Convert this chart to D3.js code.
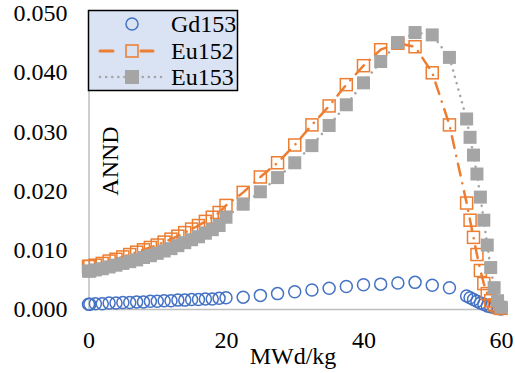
<!DOCTYPE html>
<html>
<head>
<meta charset="utf-8">
<script src="https://cdn.jsdelivr.net/npm/d3@7"></script>
<style>
    body { margin: 0; background: #fff; }
    svg text { font-family: "Liberation Serif", "Times New Roman", serif; font-size: 24px; fill: #000; }
</style>
</head>
<body>
<div id="chart"></div>
<script>
// Burnup steps (MWd/kg)
const burnup = [0, 0.2, 1, 2, 3, 4, 5, 6, 7, 8, 9, 10, 11, 12, 13, 14, 15, 16, 17, 18, 19, 20,
    22.5, 25, 27.5, 30, 32.5, 35, 37.5, 40, 42.5, 45, 47.5, 50, 52.5,
    55, 55.5, 56, 56.5, 57, 57.5, 58, 58.5, 59, 59.5, 60];

const gd153 = [0.0008, 0.0008, 0.0009, 0.0009, 0.0010, 0.0010, 0.0011, 0.0011, 0.0012, 0.0012, 0.0013, 0.0013,
    0.0014, 0.0014, 0.0015, 0.0015, 0.0016, 0.0016, 0.0017, 0.0017, 0.0018, 0.0019,
    0.0020, 0.0023, 0.0026, 0.0029, 0.0032, 0.0035, 0.0038, 0.0041, 0.0042, 0.0044, 0.0045, 0.0040, 0.0036,
    0.0022, 0.0019, 0.0016, 0.0013, 0.0010, 0.0008, 0.0005, 0.0004, 0.0002, 0.0001, 0.0000];

const eu152 = [0.0072, 0.0072, 0.0074, 0.0077, 0.0081, 0.0084, 0.0088, 0.0092, 0.0096, 0.0100, 0.0104, 0.0108,
    0.0113, 0.0118, 0.0123, 0.0129, 0.0135, 0.0141, 0.0148, 0.0155, 0.0163, 0.0175,
    0.0197, 0.0223, 0.0247, 0.0277, 0.0311, 0.0343, 0.0379, 0.0411, 0.0438, 0.0449, 0.0443, 0.0399, 0.0311,
    0.0179, 0.0150, 0.0121, 0.0092, 0.0065, 0.0043, 0.0026, 0.0014, 0.0007, 0.0003, 0.0001];

const eu153 = [0.0064, 0.0064, 0.0066, 0.0068, 0.0071, 0.0074, 0.0077, 0.0080, 0.0083, 0.0087, 0.0090, 0.0094,
    0.0098, 0.0102, 0.0107, 0.0112, 0.0117, 0.0122, 0.0128, 0.0134, 0.0141, 0.0155,
    0.0177, 0.0198, 0.0222, 0.0247, 0.0276, 0.0310, 0.0345, 0.0382, 0.0418, 0.0450, 0.0467, 0.0463, 0.0425,
    0.0321, 0.0290, 0.0260, 0.0228, 0.0189, 0.0150, 0.0108, 0.0070, 0.0036, 0.0014, 0.0003];

const xTicks = [0, 20, 40, 60];
const yTicks = [0, 0.01, 0.02, 0.03, 0.04, 0.05];
const seriesNames = ['Gd153', 'Eu152', 'Eu153'];

const width = 515, height = 373;

const svg = d3.select('#chart')
    .append('svg')
    .attr('width', width)
    .attr('height', height)
    .attr('font-family', 'Liberation Serif')
    .attr('font-size', 24);

const x = d3.scaleLinear().domain([0, 60]).range([88.5, 501]);
const y = d3.scaleLinear().domain([0, 0.05]).range([309, 13]);

// Axes (no tick marks, just labels and a gray baseline)
const yAxis = svg.append('g')
    .attr('transform', `translate(${x(0)},0)`)
    .call(d3.axisLeft(y).tickValues(yTicks).tickFormat(d3.format('.3f')).tickSize(0).tickPadding(21));

const xAxis = svg.append('g')
    .attr('transform', `translate(0,${y(0)})`)
    .call(d3.axisBottom(x).tickValues(xTicks).tickFormat(d3.format('d')).tickSize(0).tickPadding(22));

// drop d3's default sans-serif 10px on the axis groups
yAxis.attr('font-family', null).attr('font-size', null);
xAxis.attr('font-family', null).attr('font-size', null);

svg.selectAll('.domain').attr('stroke', '#bfbfbf').attr('stroke-width', 1.5);
svg.selectAll('.tick text').attr('fill', '#000');

// Axis titles
svg.append('text')
    .attr('x', 293)
    .attr('y', 364)
    .attr('text-anchor', 'middle')
    .text('MWd/kg');

svg.append('text')
    .attr('transform', 'translate(118,161) rotate(-90)')
    .attr('text-anchor', 'middle')
    .text('ANND');

const pts = vals => burnup.map((b, i) => [b, vals[i]]);
const line = d3.line().x(d => x(d[0])).y(d => y(d[1]));

// Gd153 - open blue circles
const gdG = svg.append('g');
gdG.selectAll('circle')
    .data(pts(gd153))
    .enter()
    .append('circle')
    .attr('cx', d => x(d[0]))
    .attr('cy', d => y(d[1]))
    .attr('r', 6)
    .attr('fill', 'none')
    .attr('stroke', '#4472c4')
    .attr('stroke-width', 1.5);

// Eu152 - orange long-dash-dot line with open squares
const euG = svg.append('g');
euG.append('path')
    .attr('d', line(pts(eu152)))
    .attr('fill', 'none')
    .attr('stroke', '#ed7d31')
    .attr('stroke-width', 2.5)
    .attr('stroke-linecap', 'round')
    .attr('stroke-dasharray', '12 8 0.1 8');
euG.selectAll('rect')
    .data(pts(eu152))
    .enter()
    .append('rect')
    .attr('x', d => x(d[0]) - 6)
    .attr('y', d => y(d[1]) - 6)
    .attr('width', 12)
    .attr('height', 12)
    .attr('fill', 'none')
    .attr('stroke', '#ed7d31')
    .attr('stroke-width', 1.5);

// Eu153 - gray dotted line with filled squares
const eu3G = svg.append('g');
eu3G.append('path')
    .attr('d', line(pts(eu153)))
    .attr('fill', 'none')
    .attr('stroke', '#a5a5a5')
    .attr('stroke-width', 2.5)
    .attr('stroke-linecap', 'round')
    .attr('stroke-dasharray', '0.1 6.5');
eu3G.selectAll('rect')
    .data(pts(eu153))
    .enter()
    .append('rect')
    .attr('x', d => x(d[0]) - 6.5)
    .attr('y', d => y(d[1]) - 6.5)
    .attr('width', 13)
    .attr('height', 13)
    .attr('fill', '#a5a5a5');

// Legend
const legend = svg.append('g');
legend.append('rect')
    .attr('x', 88.5)
    .attr('y', 10.5)
    .attr('width', 149)
    .attr('height', 80)
    .attr('fill', '#dae3f3')
    .attr('stroke', '#000')
    .attr('stroke-width', 1.5);

const rowY = [24, 51, 77];
const symX = 132;

legend.append('circle')
    .attr('cx', symX).attr('cy', rowY[0]).attr('r', 6)
    .attr('fill', 'none').attr('stroke', '#4472c4').attr('stroke-width', 1.5);

legend.append('path')
    .attr('d', `M100,${rowY[1]}H113M141,${rowY[1]}H153`)
    .attr('stroke', '#ed7d31').attr('stroke-width', 3).attr('stroke-linecap', 'round');
legend.append('rect')
    .attr('x', symX - 6).attr('y', rowY[1] - 6).attr('width', 12).attr('height', 12)
    .attr('fill', 'none').attr('stroke', '#ed7d31').attr('stroke-width', 1.5);

legend.append('path')
    .attr('d', `M100,${rowY[2]}H162`)
    .attr('stroke', '#a5a5a5').attr('stroke-width', 2.5).attr('stroke-linecap', 'round')
    .attr('stroke-dasharray', '0.1 6');
legend.append('rect')
    .attr('x', symX - 7).attr('y', rowY[2] - 7).attr('width', 14).attr('height', 14)
    .attr('fill', '#a5a5a5');

legend.selectAll('text.lbl')
    .data(seriesNames)
    .enter()
    .append('text')
    .attr('class', 'lbl')
    .attr('x', 171)
    .attr('y', (d, i) => rowY[i] + 8)
    .text(d => d);
</script>
</body>
</html>
